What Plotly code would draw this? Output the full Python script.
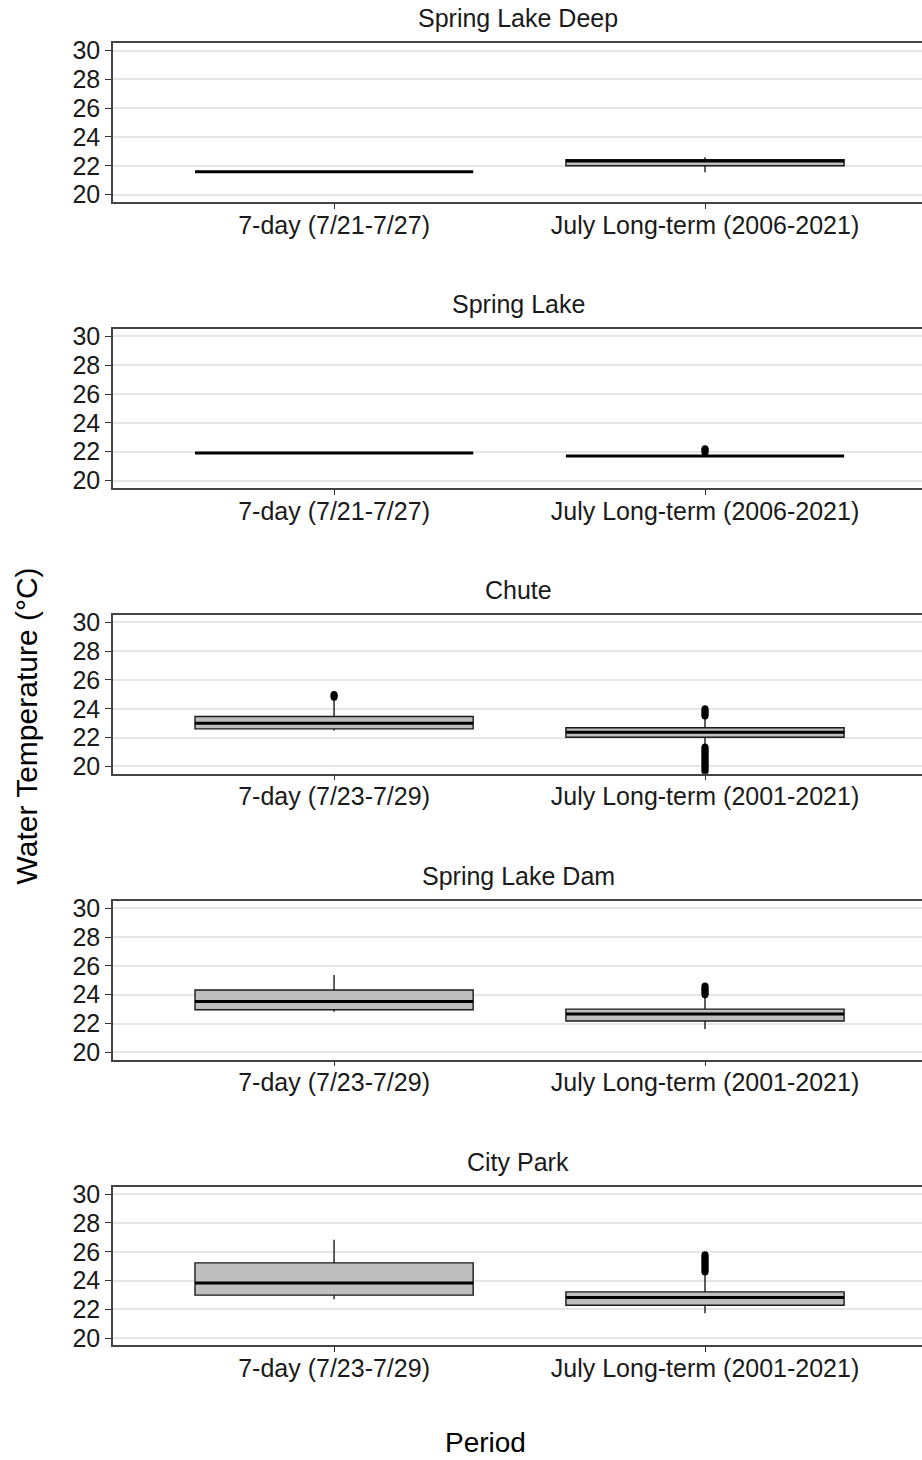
import plotly.graph_objects as go

# ---------------- data ----------------
sites = ["Spring Lake Deep", "Spring Lake", "Chute", "Spring Lake Dam", "City Park"]
period_labels = [
    ["7-day (7/21-7/27)", "July Long-term (2006-2021)"],
    ["7-day (7/21-7/27)", "July Long-term (2006-2021)"],
    ["7-day (7/23-7/29)", "July Long-term (2001-2021)"],
    ["7-day (7/23-7/29)", "July Long-term (2001-2021)"],
    ["7-day (7/23-7/29)", "July Long-term (2001-2021)"],
]
# box statistics per site: [7-day, long-term]
q1 = [[21.58, 22.00], [21.91, 21.70], [22.61, 22.03], [22.96, 22.17], [22.99, 22.29]]
median = [[21.58, 22.33], [21.91, 21.70], [23.00, 22.38], [23.53, 22.66], [23.84, 22.82]]
q3 = [[21.58, 22.43], [21.91, 21.70], [23.47, 22.68], [24.33, 23.00], [25.23, 23.22]]
lower_whisker = [[21.58, 21.55], [21.91, 21.70], [22.49, 21.55], [22.82, 21.62], [22.71, 21.74]]
upper_whisker = [[21.58, 22.60], [21.91, 21.70], [24.70, 23.40], [25.37, 23.85], [26.83, 24.40]]
outliers_7day = [[], [], [24.8, 24.9, 25.0], [], []]
outliers_longterm = [
    [],
    [21.95, 22.05, 22.15, 22.2],
    [23.5, 23.6, 23.7, 23.8, 23.9, 24.0,
     21.35, 21.25, 21.15, 21.05, 20.95, 20.85, 20.75, 20.65, 20.55, 20.45,
     20.35, 20.25, 20.15, 20.05, 19.95, 19.85, 19.75, 19.65],
    [24.0, 24.1, 24.2, 24.3, 24.4, 24.5, 24.6],
    [24.6, 24.7, 24.8, 24.9, 25.0, 25.1, 25.2, 25.3, 25.4, 25.5, 25.6, 25.7, 25.8],
]
y_ticks = [20, 22, 24, 26, 28, 30]
y_title = "Water Temperature (°C)"
x_title = "Period"

# ---------------- layout constants ----------------
W, H = 922, 1460
FONT = "Liberation Sans, Arial, sans-serif"
panel_top0 = 43.3
panel_h = 158.4
pitch = 285.7
x_left = 113
box_w = 0.75
positions = [0, 1]


def ypos(px):
    """target pixel row -> paper fraction (compensates observed vertical inset)"""
    return 1 - ((px - 7.0) / 0.9904) / H


fig = go.Figure()
layout_axes = {}
annotations = []

for i, site in enumerate(sites):
    n = "" if i == 0 else str(i + 1)
    xa, ya = "x" + n, "y" + n
    fig.add_trace(go.Box(
        x=positions, q1=q1[i], median=median[i], q3=q3[i],
        lowerfence=lower_whisker[i], upperfence=upper_whisker[i],
        width=box_w, fillcolor="#BEBEBE",
        line=dict(color="#1a1a1a", width=1.4), whiskerwidth=0,
        boxpoints=False, xaxis=xa, yaxis=ya, showlegend=False, hoverinfo="skip"))
    # thick median lines
    mx, my = [], []
    for p, m in zip(positions, median[i]):
        mx += [p - box_w / 2, p + box_w / 2, None]
        my += [m, m, None]
    fig.add_trace(go.Scatter(x=mx, y=my, mode="lines", line=dict(color="black", width=3),
                             xaxis=xa, yaxis=ya, showlegend=False, hoverinfo="skip"))
    ox = [positions[0]] * len(outliers_7day[i]) + [positions[1]] * len(outliers_longterm[i])
    oy = outliers_7day[i] + outliers_longterm[i]
    if oy:
        fig.add_trace(go.Scatter(x=ox, y=oy, mode="markers",
                                 marker=dict(color="black", size=7, line=dict(width=0)),
                                 xaxis=xa, yaxis=ya, showlegend=False, hoverinfo="skip"))

    top = panel_top0 + pitch * i
    bot = top + panel_h
    dom_y = [ypos(bot), ypos(top)]
    layout_axes["xaxis" + n] = dict(
        domain=[x_left / W, 1.0], range=[-0.596, 1.585], anchor=ya,
        tickmode="array", tickvals=positions, ticktext=period_labels[i],
        ticks="outside", ticklen=5, tickcolor="#333333", tickwidth=1,
        ticklabelstandoff=-5,
        showline=True, mirror=True, linecolor="#444444", linewidth=1.6,
        showgrid=False, zeroline=False,
        tickfont=dict(family=FONT, size=25, color="#1a1a1a"))
    layout_axes["yaxis" + n] = dict(
        domain=dom_y, range=[19.5, 30.5], anchor=xa,
        tickmode="array", tickvals=y_ticks,
        ticks="outside", ticklen=6, tickcolor="#333333", tickwidth=1,
        showline=True, mirror=False, linecolor="#444444", linewidth=1.6,
        showgrid=True, gridcolor="#E6E6E6", gridwidth=1.5, zeroline=False,
        tickfont=dict(family=FONT, size=25, color="#1a1a1a"))
    annotations.append(dict(
        text=site, x=518 / W, y=ypos(top - 25), xref="paper", yref="paper",
        xanchor="center", yanchor="middle", showarrow=False,
        font=dict(family=FONT, size=25, color="#1a1a1a")))

annotations.append(dict(
    text=y_title, x=27 / W, y=ypos(726), xref="paper", yref="paper",
    xanchor="center", yanchor="middle", showarrow=False, textangle=-90,
    font=dict(family=FONT, size=30, color="black")))
annotations.append(dict(
    text=x_title, x=485 / W, y=ypos(1441), xref="paper", yref="paper",
    xanchor="center", yanchor="middle", showarrow=False,
    font=dict(family=FONT, size=28, color="black")))

fig.update_layout(
    width=W, height=H, margin=dict(l=0, r=0, t=0, b=0),
    paper_bgcolor="white", plot_bgcolor="white",
    annotations=annotations, **layout_axes)

fig.write_html("out.html")
